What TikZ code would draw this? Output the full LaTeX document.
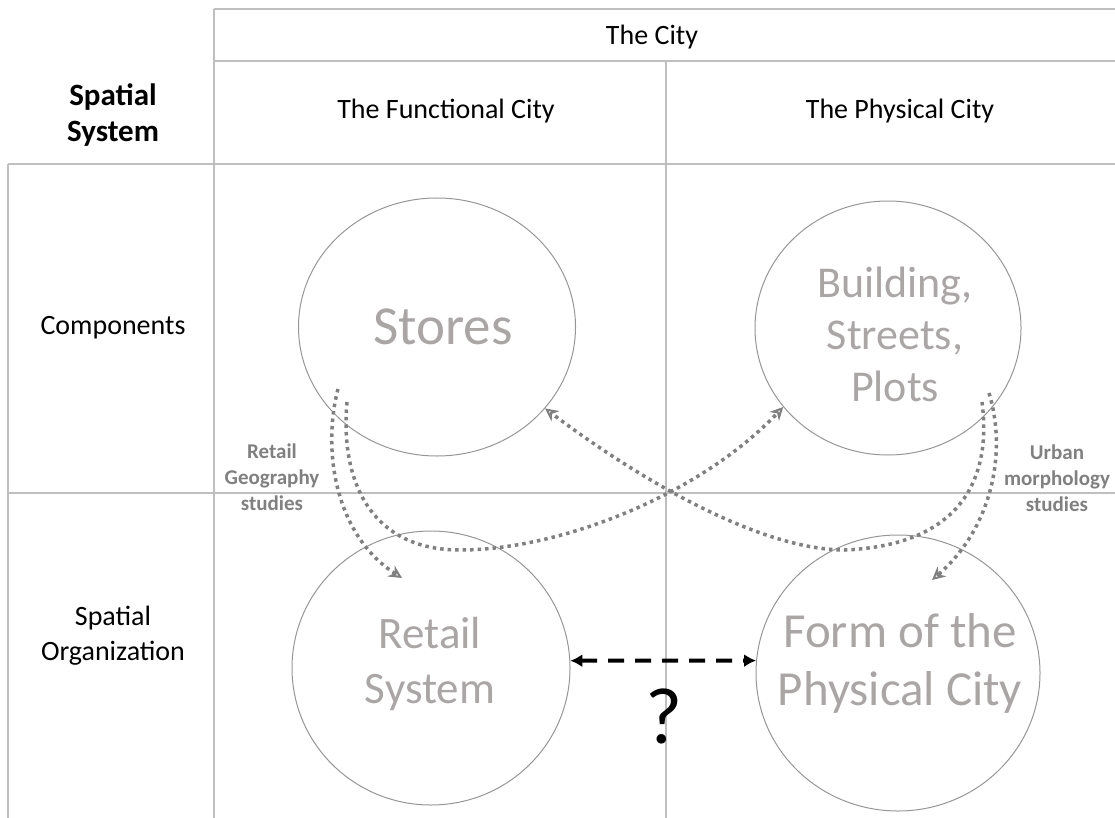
\documentclass[tikz,border=0pt]{standalone}
\usepackage{fontspec}
\setmainfont{Carlito}
\usetikzlibrary{shapes.geometric,arrows.meta}
\definecolor{gridgray}{RGB}{191,191,191}
\definecolor{ringgray}{RGB}{150,150,150}
\definecolor{blobtext}{RGB}{170,166,166}
\definecolor{flowgray}{RGB}{128,128,128}

\begin{document}
\begin{tikzpicture}[x=1pt,y=-1pt]
	\tikzset{gridline/.style={gridgray,line width=1.5pt},
		blob/.style={ellipse,draw=ringgray,line width=1pt,inner sep=0pt},
		blobtxt/.style={text=blobtext,align=center},
		head/.style={font=\fontsize{28}{34}\selectfont,align=center},
		note/.style={text=flowgray,font=\bfseries\fontsize{21}{26}\selectfont,align=center},
		flow/.style={flowgray,line width=3.5pt,dash pattern=on 3.5pt off 4pt,-{Stealth[open,length=13pt,width=13pt,line width=2pt]}},
		link/.style={black,line width=4pt,dash pattern=on 16pt off 11pt,{Latex[length=12pt,width=13pt]}-{Latex[length=12pt,width=13pt]}}}
	\useasboundingbox (0,0) rectangle (1115,818);
	
	% table
	\draw[gridline] (214,9) -- (1115,9) (214,61) -- (1115,61);
	\draw[gridline] (8,164) -- (1115,164) (8,493) -- (1115,493);
	\foreach \x/\y in {8/164,214/9,666/61}
	\draw[gridline] (\x,\y) -- (\x,818);
	
	\node (cityhead) at (652,37) [head] {The City};
	\node (funchead) at (446,111) [head] {The Functional City};
	\node (physhead) at (900,111) [head] {The Physical City};
	\node (syshead) at (113,115) [head,font=\bfseries\fontsize{31}{36}\selectfont] {Spatial\\System};
	\node (comprow) at (113,328) [head] {Components};
	\node (orgrow) at (113,636) [head,font=\fontsize{28}{35}\selectfont] {Spatial\\Organization};
	
	% circles
	\node (stores) at (437,327) [blob,minimum width=277pt,minimum height=258pt] {};
	\node (bldg) at (888,328) [blob,minimum width=266pt,minimum height=254pt] {};
	\node (retail) at (431,668) [blob,minimum width=278pt,minimum height=274pt] {};
	\node (form) at (898,673) [blob,minimum width=284pt,minimum height=276pt] {};
	
	\node (storestext) at (443,327) [blobtxt,font=\fontsize{55}{60}\selectfont] {Stores};
	\node (bldgtext) at (895,334) [blobtxt,font=\fontsize{44}{52}\selectfont] {Building,\\Streets,\\Plots};
	\node (retailtext) at (430,664) [blobtxt,font=\fontsize{45}{55}\selectfont] {Retail\\System};
	\node (formtext) at (900,663) [blobtxt,font=\fontsize{49}{58}\selectfont] {Form of the\\Physical City};
	
	\node (retgeo) at (272,477) [note] {Retail\\Geography\\studies};
	\node (urbmor) at (1057,478) [note] {Urban\\morphology\\studies};
	
	\coordinate (s1) at (338,389);
	\coordinate (s2) at (347,402);
	\coordinate (b1) at (989,393);
	\coordinate (b2) at (982,402);
	\coordinate (r1) at (402,578);
	\coordinate (f1) at (932,580);
	
	\draw[flow] (s1) .. controls (322,450) and (335,535) .. (r1);
	\draw[flow] (s2) .. controls (340,480) and (370,550) .. (460,550) .. controls (560,550) and (700,495) .. (bldg.217);
	\draw[flow] (b2) .. controls (992,480) and (960,545) .. (845,550) .. controls (760,550) and (640,480) .. (stores.323);
	\draw[flow] (b1) .. controls (1008,455) and (990,530) .. (f1);
	
	\draw[link] (retail.3) -- (form.175);
	\node (qmark) at (664,716) [font=\fontsize{80}{90}\selectfont] {?};
\end{tikzpicture}
\end{document}
